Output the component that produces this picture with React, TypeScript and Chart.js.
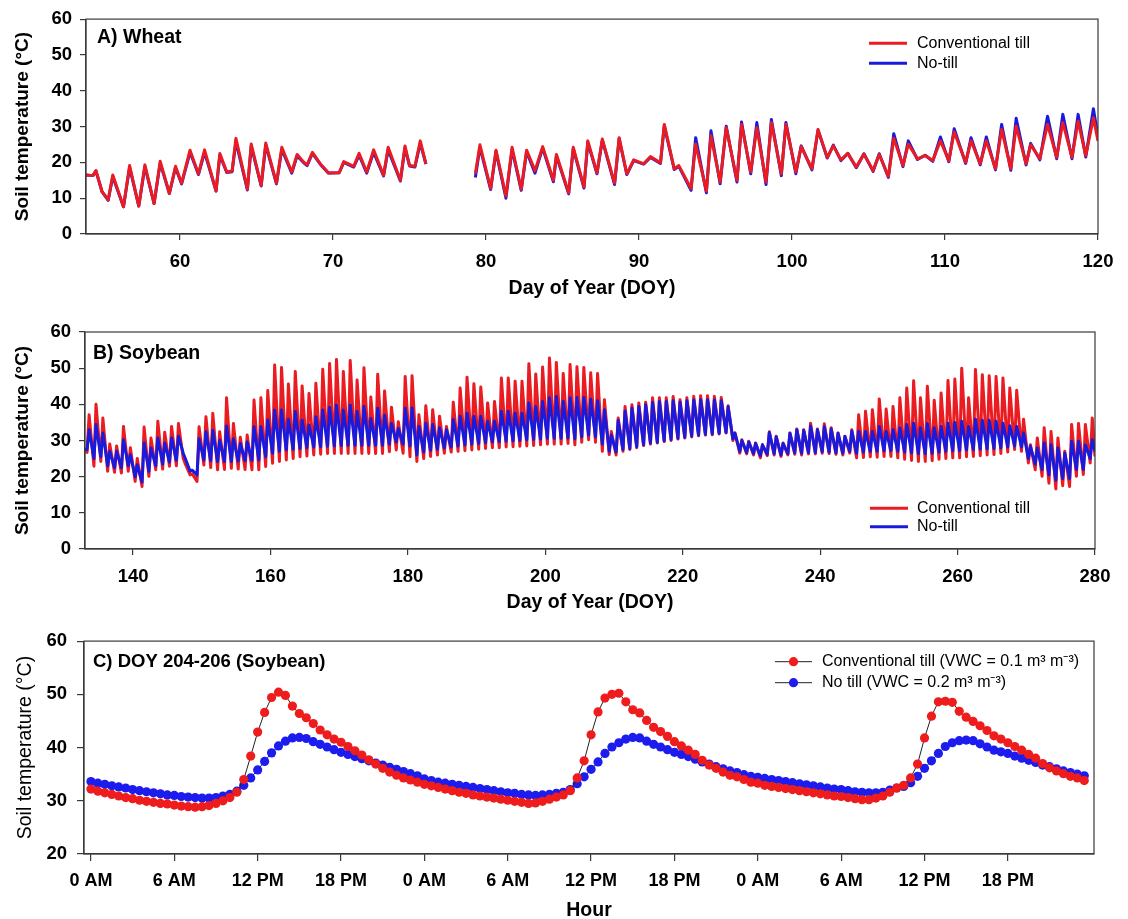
import React, { useEffect, useRef } from "react";
import { Chart, registerables } from "chart.js";

Chart.register(...registerables);

const FONT = '"Liberation Sans", Arial, Helvetica, sans-serif';
const RED = "#ea1c22";
const BLUE = "#1a1adc";
const AXIS = "#3a3a3a";

// ---------------- Panel A: Wheat ----------------
const wheatDay = [
  53.85, 54.3, 54.5, 54.9, 55.3, 55.6, 56.3, 56.7, 57.3, 57.7, 58.3, 58.7, 59.3, 59.7,
  60.1, 60.65, 61.2, 61.6, 62.35, 62.6, 63.05, 63.4, 63.65, 64.4, 64.65, 65.3, 65.6, 66.3,
  66.65, 67.3, 67.65, 68.1, 68.3, 68.65, 69.2, 69.7, 70.4, 70.7, 71.35, 71.7, 72.2, 72.65,
  73.3, 73.6, 74.4, 74.7, 75.0, 75.35, 75.7, 76.07, 77.5,
  79.3, 79.6, 80.3, 80.65, 81.3, 81.7, 82.3, 82.65, 83.2, 83.7, 84.4, 84.6, 85.4, 85.7,
  86.4, 86.65, 87.25, 87.6, 88.4, 88.7, 89.2, 89.65, 90.3, 90.75, 91.4, 91.65, 92.3, 92.6,
  93.4, 93.7, 94.4, 94.7, 95.3, 95.7, 96.4, 96.7, 97.3, 97.7, 98.3, 98.65, 99.3, 99.6,
  100.25, 100.6, 101.3, 101.7, 102.3, 102.7, 103.2, 103.65, 104.2, 104.7, 105.3, 105.7,
  106.3, 106.65, 107.25, 107.6, 108.2, 108.7, 109.2, 109.7, 110.25, 110.6, 111.35, 111.7,
  112.3, 112.7, 113.3, 113.7, 114.3, 114.65, 115.3, 115.6, 116.2, 116.7, 117.3, 117.7,
  118.3, 118.7, 119.2, 119.7, 120.0,
];
const wheatCT = [
  16.5, 16.3, 17.7, 11.8, 9.5, 16.5, 7.6, 19.1, 7.8, 19.3, 8.5, 20.3, 11.3, 18.9,
  14.2, 23.4, 16.8, 23.5, 12.0, 22.5, 17.3, 17.6, 26.7, 12.5, 25.1, 13.6, 25.4, 14.2,
  24.2, 17.3, 22.2, 20.0, 19.3, 22.8, 19.4, 17.0, 17.1, 20.2, 18.9, 22.5, 17.3, 23.5,
  16.4, 24.2, 15.0, 24.6, 19.1, 18.9, 26.0, 19.6, null,
  16.8, 24.9, 12.7, 23.4, 10.6, 24.2, 12.5, 23.4, 17.7, 24.4, 15.0, 22.2, 11.5, 24.2,
  13.1, 26.0, 17.1, 26.5, 14.2, 26.9, 16.8, 20.7, 19.6, 21.6, 19.9, 30.6, 18.2, 19.1,
  12.7, 25.1, 12.0, 27.4, 14.5, 29.7, 15.0, 30.6, 17.3, 29.7, 14.5, 31.1, 16.8, 30.6,
  17.3, 24.4, 18.2, 29.2, 21.4, 24.6, 20.7, 22.5, 18.7, 22.3, 17.7, 22.2,
  16.1, 26.7, 19.1, 25.1, 21.0, 21.9, 20.5, 26.0, 20.5, 28.5, 20.0, 26.0,
  19.6, 26.0, 18.2, 29.2, 18.2, 30.1, 19.6, 24.9, 21.0, 30.6, 21.4, 31.1,
  21.4, 31.5, 21.9, 32.4, 26.0,
];
const wheatNT = [
  16.5, 16.3, 17.6, 11.8, 9.4, 16.0, 7.6, 18.6, 7.8, 18.8, 8.5, 19.8, 11.3, 18.5,
  14.0, 22.8, 16.6, 22.8, 12.0, 22.0, 17.2, 17.4, 25.8, 12.3, 24.5, 13.4, 24.8, 14.0,
  23.6, 17.0, 21.8, 19.8, 19.1, 22.5, 19.3, 17.0, 17.1, 20.0, 18.7, 22.0, 17.0, 22.8,
  16.2, 23.5, 14.8, 24.0, 19.0, 18.7, 25.3, 19.5, null,
  15.8, 24.2, 12.4, 23.0, 10.0, 23.6, 12.2, 23.0, 17.0, 24.0, 14.6, 21.8, 11.2, 23.8,
  12.8, 25.6, 16.8, 26.2, 13.8, 26.6, 16.6, 20.5, 19.5, 21.4, 19.7, 30.2, 18.0, 18.9,
  12.2, 26.9, 11.5, 28.8, 14.0, 30.1, 14.5, 31.3, 16.8, 31.1, 13.8, 32.0, 16.3, 31.1,
  16.8, 24.6, 17.9, 29.0, 21.2, 24.8, 20.5, 22.5, 18.5, 22.4, 17.5, 22.4,
  15.8, 28.0, 18.8, 26.0, 20.8, 22.0, 20.3, 27.1, 20.2, 29.4, 19.7, 26.9,
  19.3, 27.1, 17.9, 30.6, 17.8, 32.3, 19.3, 25.3, 20.7, 32.9, 21.0, 33.4,
  21.0, 33.4, 21.5, 35.0, 27.0,
];
const wheatTicks = [60, 70, 80, 90, 100, 110, 120];
const tempTicks = [0, 10, 20, 30, 40, 50, 60];

// ---------------- Panel B: Soybean (daily minima / maxima, DOY 133-279) ----------------
const soyFirstDay = 133;
const soyLastDay = 280;
const soyStartCT = 27.5;
const soyStartNT = 27.5;
const soyEndCT = 25.6;
const soyEndNT = 27.0;
const soyCTmin = [
  26.7, 22.9, 24.2, 21.5, 21.2, 21.0, 21.5, 18.7, 17.3, 20.1,
  21.9, 22.1, 22.9, 23.0, 25.0, 20.5, 18.7, 23.2, 22.5, 21.9,
  22.0, 22.3, 22.1, 22.0, 21.9, 21.9, 22.8, 23.7, 24.2, 24.6,
  25.0, 25.5, 25.7, 26.0, 26.2, 26.4, 26.4, 26.4, 26.4, 26.4,
  26.4, 26.4, 26.4, 26.4, 26.9, 27.4, 26.5, 25.5, 24.2, 25.0,
  25.6, 26.0, 26.5, 26.8, 27.0, 27.2, 27.4, 27.6, 27.8, 28.0,
  28.0, 28.2, 28.3, 28.4, 28.5, 28.6, 28.8, 29.0, 29.0, 29.0,
  29.2, 28.8, 29.5, 30.2, 29.5, 27.0, 26.1, 26.0, 27.0, 27.5,
  28.0, 28.6, 29.0, 29.3, 29.7, 30.0, 30.4, 30.7, 31.0, 31.3,
  31.5, 31.6, 31.8, 32.1, 30.0, 26.5, 26.3, 26.0, 25.2, 25.8,
  26.0, 25.6, 26.0, 26.2, 26.0, 26.3, 26.3, 26.5, 26.4, 26.2,
  26.0, 26.5, 25.2, 25.3, 25.5, 25.4, 25.6, 25.6, 25.2, 24.8,
  24.5, 24.2, 24.2, 24.4, 24.8, 25.0, 25.2, 25.2, 25.5, 25.6,
  25.8, 26.0, 26.1, 26.4, 26.8, 27.5, 27.0, 23.8, 21.9, 20.1,
  18.2, 16.6, 17.5, 17.3, 20.1, 20.6, 23.8,
];
const soyCTmax = [
  37.1, 40.0, 36.2, 29.0, 28.5, 33.9, 28.0, 25.0, 33.7, 30.7,
  35.3, 32.3, 33.9, 34.7, 23.5, 20.8, 33.8, 36.6, 37.5, 32.4,
  41.8, 34.7, 30.9, 31.5, 41.2, 41.8, 43.8, 50.9, 50.2, 45.6,
  49.1, 45.1, 43.0, 45.8, 49.7, 51.3, 52.4, 49.1, 52.1, 46.7,
  50.1, 42.0, 48.3, 43.7, 39.2, 35.2, 47.7, 47.9, 37.1, 39.6,
  38.5, 36.7, 33.9, 40.6, 44.5, 47.5, 45.7, 44.8, 40.4, 40.8,
  47.3, 47.3, 46.4, 46.4, 51.2, 48.4, 50.3, 52.8, 51.6, 48.5,
  51.0, 50.4, 50.2, 48.7, 48.5, 41.3, 32.5, 36.2, 39.4, 39.9,
  40.4, 40.6, 41.8, 41.8, 41.8, 42.2, 41.3, 41.8, 42.2, 42.4,
  42.4, 42.2, 41.9, 39.6, 32.1, 30.2, 29.8, 29.3, 28.8, 32.4,
  31.2, 29.3, 32.1, 33.2, 33.0, 34.8, 33.2, 34.6, 33.5, 32.1,
  31.2, 33.0, 37.1, 38.1, 38.5, 41.5, 38.7, 39.4, 41.8, 44.5,
  46.5, 41.8, 45.0, 41.1, 43.1, 46.6, 47.0, 50.0, 41.8, 49.6,
  48.2, 47.9, 47.7, 47.3, 44.5, 43.9, 35.9, 28.8, 30.7, 33.5,
  32.5, 30.7, 27.0, 34.4, 34.7, 34.4, 36.2,
];
const soyNTmin = [
  27.5, 25.0, 25.5, 23.0, 22.5, 22.5, 23.0, 20.0, 18.5, 21.5,
  23.0, 23.5, 24.0, 24.5, 26.5, 21.5, 20.5, 24.6, 24.4, 24.2,
  24.2, 24.2, 24.3, 24.4, 24.5, 24.6, 25.5, 26.5, 27.0, 27.4,
  27.6, 27.8, 28.0, 28.2, 28.3, 28.4, 28.5, 28.6, 28.7, 28.7,
  28.7, 28.7, 28.7, 28.7, 29.0, 29.6, 29.0, 28.5, 26.0, 26.8,
  27.3, 27.6, 28.0, 28.2, 28.5, 28.8, 29.0, 29.2, 29.4, 29.6,
  29.7, 29.8, 29.9, 30.0, 30.2, 30.3, 30.4, 30.6, 30.6, 30.6,
  30.7, 30.5, 31.0, 31.5, 31.0, 29.0, 27.0, 26.8, 27.5, 27.8,
  28.3, 28.8, 29.3, 29.5, 29.9, 30.3, 30.6, 30.9, 31.2, 31.5,
  31.7, 31.8, 32.0, 32.2, 30.5, 27.0, 26.7, 26.4, 25.8, 26.2,
  26.4, 26.0, 26.4, 26.6, 26.5, 26.7, 26.7, 26.9, 26.8, 26.6,
  26.5, 27.0, 26.5, 26.8, 27.0, 27.0, 27.2, 27.2, 27.0, 26.8,
  26.6, 26.4, 26.4, 26.5, 26.8, 27.0, 27.2, 27.2, 27.4, 27.5,
  27.6, 27.7, 27.8, 28.0, 28.2, 28.5, 28.2, 25.0, 23.5, 22.0,
  20.5, 19.0, 19.5, 19.5, 22.0, 22.0, 25.0,
];
const soyNTmax = [
  33.0, 34.4, 32.1, 27.0, 27.0, 30.2, 26.1, 23.3, 29.3, 27.9,
  30.7, 29.3, 30.7, 31.2, 25.0, 21.8, 30.5, 32.4, 32.8, 30.1,
  34.0, 30.5, 29.2, 29.6, 33.8, 33.8, 35.7, 38.4, 38.4, 35.9,
  38.0, 35.7, 34.3, 36.6, 38.4, 39.2, 39.8, 38.4, 39.8, 38.0,
  39.4, 36.1, 38.9, 37.0, 34.7, 33.3, 38.9, 39.0, 33.9, 34.8,
  34.4, 33.5, 33.0, 35.8, 36.7, 37.6, 36.7, 36.7, 35.3, 35.3,
  38.1, 38.1, 37.6, 37.6, 40.4, 39.4, 40.8, 41.8, 42.2, 40.8,
  41.8, 41.9, 41.9, 41.4, 41.0, 38.5, 31.5, 35.5, 38.1, 39.0,
  39.4, 39.9, 40.5, 40.8, 40.8, 41.0, 40.6, 41.0, 41.2, 41.3,
  41.3, 41.2, 41.0, 39.3, 32.0, 30.0, 29.6, 29.2, 28.8, 32.2,
  31.0, 29.2, 32.0, 33.0, 32.8, 34.0, 33.0, 33.8, 33.2, 32.0,
  31.1, 32.6, 32.5, 32.5, 32.5, 33.9, 32.5, 33.0, 33.5, 34.4,
  34.8, 33.5, 34.7, 33.5, 33.9, 34.8, 35.0, 35.3, 33.9, 35.9,
  35.6, 35.6, 35.3, 34.8, 34.1, 33.9, 32.1, 28.4, 27.9, 29.3,
  28.8, 27.9, 26.5, 29.8, 29.8, 28.8, 30.2,
];
const soyTicks = [140, 160, 180, 200, 220, 240, 260, 280];
// time of day (fraction of day) of the daily minimum and maximum
const MIN_TIME = 0.3;
const MAX_TIME = 0.6;

// ---------------- Panel C: DOY 204-206, half-hourly ----------------
const cCTDay204 = [
  32.2, 31.8, 31.5, 31.2, 30.9, 30.6, 30.4, 30.1, 29.9, 29.7, 29.5, 29.4, 29.2, 29.0, 28.9, 28.8,
  28.9, 29.1, 29.5, 30.0, 30.6, 31.6, 34.0, 38.4, 42.9, 46.6, 49.4, 50.4, 49.8, 47.8, 46.4, 45.6,
  44.5, 43.3, 42.4, 41.6, 41.0, 40.2, 39.4, 38.6, 37.7, 36.9, 36.1, 35.4, 34.8, 34.3, 33.9, 33.5,
];
const cCTDay205 = [
  33.1, 32.8, 32.5, 32.2, 31.9, 31.6, 31.4, 31.1, 30.9, 30.7, 30.5, 30.3, 30.1, 29.9, 29.7, 29.5,
  29.6, 29.9, 30.3, 30.7, 31.1, 31.9, 34.3, 37.5, 42.4, 46.7, 49.3, 50.0, 50.2, 48.6, 47.1, 46.5,
  45.1, 43.8, 43.0, 42.1, 41.1, 40.3, 39.5, 38.7, 37.6, 36.7, 36.1, 35.4, 34.8, 34.5, 34.0, 33.5,
];
const cCTDay206 = [
  33.3, 32.9, 32.7, 32.5, 32.3, 32.1, 31.9, 31.7, 31.5, 31.3, 31.1, 30.9, 30.8, 30.6, 30.4, 30.2,
  30.2, 30.5, 30.9, 31.6, 32.4, 32.9, 34.3, 36.9, 41.8, 45.9, 48.6, 48.7, 48.5, 46.8, 45.7, 44.9,
  44.1, 43.2, 42.2, 41.6, 40.9, 40.2, 39.5, 38.7, 38.0, 37.0, 36.2, 35.6, 35.1, 34.6, 34.3, 33.8,
];
const cNTDay204 = [
  33.6, 33.3, 33.1, 32.8, 32.6, 32.4, 32.1, 31.9, 31.7, 31.5, 31.3, 31.1, 31.0, 30.8, 30.7, 30.6,
  30.5, 30.5, 30.6, 30.9, 31.2, 31.8, 32.9, 34.3, 35.8, 37.4, 39.0, 40.3, 41.2, 41.8, 41.9, 41.7,
  41.1, 40.6, 40.1, 39.6, 39.1, 38.7, 38.3, 37.9, 37.5, 37.1, 36.7, 36.3, 35.9, 35.5, 35.1, 34.7,
];
const cNTDay205 = [
  34.1, 33.8, 33.5, 33.3, 33.1, 32.9, 32.7, 32.5, 32.3, 32.1, 31.9, 31.7, 31.5, 31.4, 31.2, 31.1,
  31.0, 31.1, 31.2, 31.4, 31.6, 32.1, 33.2, 34.5, 35.9, 37.3, 38.9, 40.1, 40.9, 41.6, 41.9, 41.8,
  41.2, 40.6, 40.1, 39.6, 39.1, 38.7, 38.3, 37.8, 37.3, 36.9, 36.4, 36.0, 35.6, 35.3, 34.9, 34.6,
];
const cNTDay206 = [
  34.4, 34.2, 34.0, 33.8, 33.6, 33.4, 33.2, 33.0, 32.8, 32.6, 32.4, 32.2, 32.1, 31.9, 31.7, 31.6,
  31.5, 31.5, 31.6, 32.0, 32.4, 32.7, 33.4, 34.6, 36.1, 37.5, 38.9, 40.2, 40.9, 41.3, 41.4, 41.3,
  40.7, 40.1, 39.5, 39.2, 38.9, 38.4, 38.0, 37.6, 37.2, 36.7, 36.4, 36.0, 35.6, 35.3, 35.0, 34.7,
];
const hourTicks = [0, 6, 12, 18, 24, 30, 36, 42, 48, 54, 60, 66];
const hourTickLabels = ["0 AM", "6 AM", "12 PM", "18 PM"];
const cTempTicks = [20, 30, 40, 50, 60];
const STEP_HOURS = 0.5;

// ---------------- helpers ----------------
const tickFont = { family: FONT, size: 18.5, weight: "bold" as const };
const titleFont = { family: FONT, size: 19.5, weight: "bold" as const };

function overlay(opts: {
  label: string;
  labelX: number;
  labelY: number;
  labelFont: string;
  x0: number;
  x1: number;
  textX: number;
  rows: number[];
  markers: boolean;
  legendFont: string;
}) {
  return {
    id: "overlay",
    afterDraw(chart: any) {
      const { ctx, chartArea: a } = chart;
      ctx.save();
      ctx.strokeStyle = AXIS;
      ctx.lineWidth = 1.2;
      ctx.strokeRect(a.left, a.top, a.right - a.left, a.bottom - a.top);
      ctx.textBaseline = "middle";
      ctx.textAlign = "left";
      ctx.fillStyle = "#000";
      ctx.font = opts.labelFont;
      ctx.fillText(opts.label, opts.labelX, opts.labelY);
      ctx.font = opts.legendFont;
      chart.data.datasets.forEach((ds: any, i: number) => {
        const y = opts.rows[i];
        const color = opts.markers ? ds.pointBackgroundColor : ds.borderColor;
        ctx.beginPath();
        ctx.moveTo(opts.x0, y);
        ctx.lineTo(opts.x1, y);
        ctx.strokeStyle = opts.markers ? "#222" : color;
        ctx.lineWidth = opts.markers ? 1 : 3;
        ctx.stroke();
        if (opts.markers) {
          ctx.beginPath();
          ctx.arc((opts.x0 + opts.x1) / 2, y, 4.6, 0, Math.PI * 2);
          ctx.fillStyle = color;
          ctx.fill();
        }
        ctx.fillStyle = "#000";
        ctx.fillText(ds.label, opts.textX, y);
      });
      ctx.restore();
    },
  };
}

function axisCommon(tickLen: number) {
  return {
    grid: { drawOnChartArea: false, drawTicks: true, tickLength: tickLen, color: AXIS, lineWidth: 1.2 },
    border: { display: true, color: AXIS, width: 1.2 },
  };
}

function dailyPoints(mins: number[], maxs: number[], start: number, end: number) {
  const pts: { x: number; y: number }[] = [{ x: soyFirstDay, y: start }];
  mins.forEach((mn, i) => {
    const d = soyFirstDay + i;
    pts.push({ x: d + MIN_TIME, y: mn });
    pts.push({ x: d + MAX_TIME, y: maxs[i] });
  });
  pts.push({ x: soyLastDay, y: end });
  return pts;
}

export default function App() {
  const refA = useRef<HTMLCanvasElement>(null);
  const refB = useRef<HTMLCanvasElement>(null);
  const refC = useRef<HTMLCanvasElement>(null);

  useEffect(() => {
    const charts: Chart[] = [];

    // ---------- Panel A ----------
    charts.push(
      new Chart(refA.current!, {
        type: "line",
        data: {
          datasets: [
            {
              label: "Conventional till",
              data: wheatDay.map((d, i) => ({ x: d, y: wheatCT[i] })),
              borderColor: RED,
              borderWidth: 3,
              pointRadius: 0,
              spanGaps: false,
              borderJoinStyle: "round",
            },
            {
              label: "No-till",
              data: wheatDay.map((d, i) => ({ x: d, y: wheatNT[i] })),
              borderColor: BLUE,
              borderWidth: 3,
              pointRadius: 0,
              spanGaps: false,
              borderJoinStyle: "round",
            },
          ],
        } as any,
        options: {
          animation: false,
          responsive: false,
          events: [],
          layout: { padding: { left: 0, right: 30, top: 17, bottom: 0 } },
          plugins: { legend: { display: false }, tooltip: { enabled: false } },
          scales: {
            x: {
              type: "linear",
              min: 53.85,
              max: 120,
              afterBuildTicks: (s: any) => {
                s.ticks = wheatTicks.map((v) => ({ value: v }));
              },
              afterFit: (s: any) => {
                s.height = 71;
              },
              ...axisCommon(6),
              ticks: { font: tickFont, color: "#000", padding: 11, autoSkip: false, maxRotation: 0 },
              title: {
                display: true,
                text: "Day of Year (DOY)",
                font: titleFont,
                color: "#000",
                padding: { top: 0, bottom: 5 },
              },
            },
            y: {
              min: 0,
              max: 60,
              afterBuildTicks: (s: any) => {
                s.ticks = tempTicks.map((v) => ({ value: v }));
              },
              afterFit: (s: any) => {
                s.width = 86;
              },
              ...axisCommon(6),
              ticks: { font: tickFont, color: "#000", padding: 8 },
              title: {
                display: true,
                text: "Soil temperature (°C)",
                font: { family: FONT, size: 19, weight: "bold" },
                color: "#000",
                padding: { top: 11.5, bottom: 0 },
              },
            },
          },
        } as any,
        plugins: [
          overlay({
            label: "A) Wheat",
            labelX: 97,
            labelY: 38,
            labelFont: `bold 19.5px ${FONT}`,
            x0: 869,
            x1: 907,
            textX: 917,
            rows: [43.3, 63.3],
            markers: false,
            legendFont: `16px ${FONT}`,
          }),
        ],
      })
    );

    // ---------- Panel B ----------
    charts.push(
      new Chart(refB.current!, {
        type: "line",
        data: {
          datasets: [
            {
              label: "Conventional till",
              data: dailyPoints(soyCTmin, soyCTmax, soyStartCT, soyEndCT),
              borderColor: RED,
              borderWidth: 3,
              pointRadius: 0,
              order: 2,
              borderJoinStyle: "round",
            },
            {
              label: "No-till",
              data: dailyPoints(soyNTmin, soyNTmax, soyStartNT, soyEndNT),
              borderColor: BLUE,
              borderWidth: 3,
              pointRadius: 0,
              order: 1,
              borderJoinStyle: "round",
            },
          ],
        } as any,
        options: {
          animation: false,
          responsive: false,
          events: [],
          layout: { padding: { left: 0, right: 33, top: 27, bottom: 0 } },
          plugins: { legend: { display: false }, tooltip: { enabled: false } },
          scales: {
            x: {
              type: "linear",
              min: 133,
              max: 280,
              afterBuildTicks: (s: any) => {
                s.ticks = soyTicks.map((v) => ({ value: v }));
              },
              afterFit: (s: any) => {
                s.height = 71;
              },
              ...axisCommon(6),
              ticks: { font: tickFont, color: "#000", padding: 11, autoSkip: false, maxRotation: 0 },
              title: {
                display: true,
                text: "Day of Year (DOY)",
                font: titleFont,
                color: "#000",
                padding: { top: 0, bottom: 6 },
              },
            },
            y: {
              min: 0,
              max: 60,
              afterBuildTicks: (s: any) => {
                s.ticks = tempTicks.map((v) => ({ value: v }));
              },
              afterFit: (s: any) => {
                s.width = 85;
              },
              ...axisCommon(6),
              ticks: { font: tickFont, color: "#000", padding: 8 },
              title: {
                display: true,
                text: "Soil temperature (°C)",
                font: { family: FONT, size: 19, weight: "bold" },
                color: "#000",
                padding: { top: 11, bottom: 0 },
              },
            },
          },
        } as any,
        plugins: [
          overlay({
            label: "B) Soybean",
            labelX: 93,
            labelY: 48.5,
            labelFont: `bold 19.5px ${FONT}`,
            x0: 870,
            x1: 908,
            textX: 917,
            rows: [203.3, 221.7],
            markers: false,
            legendFont: `16px ${FONT}`,
          }),
        ],
      })
    );

    // ---------- Panel C ----------
    const cCT = [...cCTDay204, ...cCTDay205, ...cCTDay206];
    const cNT = [...cNTDay204, ...cNTDay205, ...cNTDay206];
    charts.push(
      new Chart(refC.current!, {
        type: "line",
        data: {
          datasets: [
            {
              label: "Conventional till (VWC = 0.1 m³ m⁻³)",
              data: cCT.map((v, i) => ({ x: i * STEP_HOURS, y: v })),
              borderColor: "#222",
              borderWidth: 1,
              pointRadius: 4.6,
              pointBorderWidth: 0,
              pointBackgroundColor: "#ee1c1c",
              pointBorderColor: "#ee1c1c",
            },
            {
              label: "No till (VWC = 0.2 m³ m⁻³)",
              data: cNT.map((v, i) => ({ x: i * STEP_HOURS, y: v })),
              borderColor: "#222",
              borderWidth: 1,
              pointRadius: 4.6,
              pointBorderWidth: 0,
              pointBackgroundColor: "#1c1cee",
              pointBorderColor: "#1c1cee",
            },
          ],
        } as any,
        options: {
          animation: false,
          responsive: false,
          events: [],
          layout: { padding: { left: 0, right: 34, top: 17, bottom: 0 } },
          plugins: { legend: { display: false }, tooltip: { enabled: false } },
          scales: {
            x: {
              type: "linear",
              min: -0.5,
              max: 72.2,
              afterBuildTicks: (s: any) => {
                s.ticks = hourTicks.map((v) => ({ value: v }));
              },
              afterFit: (s: any) => {
                s.height = 65;
              },
              ...axisCommon(7),
              ticks: {
                font: { family: FONT, size: 18, weight: "bold" },
                color: "#000",
                padding: 9.5,
                autoSkip: false,
                maxRotation: 0,
                callback: (v: any) => hourTickLabels[Math.round(Number(v) / 6) % 4],
              },
              title: {
                display: true,
                text: "Hour",
                font: { family: FONT, size: 19.5, weight: "bold", lineHeight: 0.87 },
                color: "#000",
                padding: { top: 0, bottom: 0 },
              },
            },
            y: {
              min: 20,
              max: 60,
              afterBuildTicks: (s: any) => {
                s.ticks = cTempTicks.map((v) => ({ value: v }));
              },
              afterFit: (s: any) => {
                s.width = 84;
              },
              ...axisCommon(7),
              ticks: { font: tickFont, color: "#000", padding: 10 },
              title: {
                display: true,
                text: "Soil temperature (°C)",
                font: { family: FONT, size: 19.5, weight: "normal" },
                color: "#000",
                padding: { top: 14, bottom: 0 },
              },
            },
          },
        } as any,
        plugins: [
          overlay({
            label: "C) DOY 204-206 (Soybean)",
            labelX: 93,
            labelY: 41.5,
            labelFont: `bold 18.5px ${FONT}`,
            x0: 775,
            x1: 812,
            textX: 822,
            rows: [41.7, 62.7],
            markers: true,
            legendFont: `16px ${FONT}`,
          }),
        ],
      })
    );

    return () => charts.forEach((c) => c.destroy());
  }, []);

  const canvasStyle = (top: number, h: number): React.CSSProperties => ({
    position: "absolute",
    left: 0,
    top,
    width: 1128,
    height: h,
    display: "block",
  });

  return (
    <div style={{ position: "absolute", left: 0, top: 0, width: 1128, height: 919, background: "#fff", overflow: "hidden" }}>
      <canvas ref={refA} width={1128} height={305} style={canvasStyle(0, 305)} />
      <canvas ref={refB} width={1128} height={315} style={canvasStyle(305, 315)} />
      <canvas ref={refC} width={1128} height={299} style={canvasStyle(620, 299)} />
    </div>
  );
}
